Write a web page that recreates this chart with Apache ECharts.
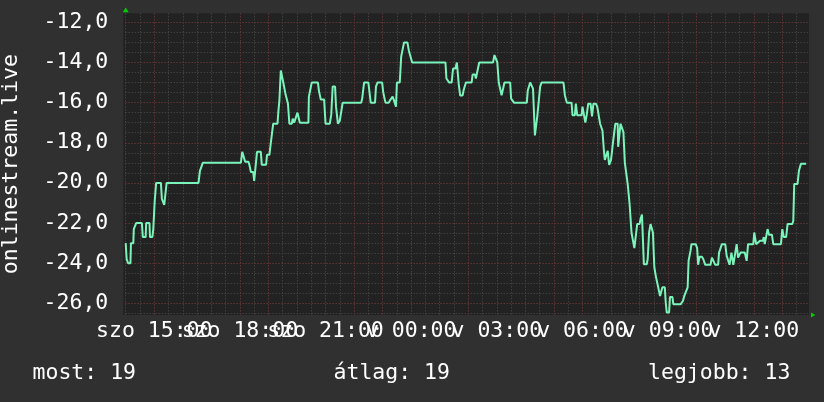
<!DOCTYPE html>
<html><head><meta charset="utf-8">
<script src="https://cdn.jsdelivr.net/npm/echarts@6/dist/echarts.min.js"></script>
<style>html,body{margin:0;padding:0;background:#303030;}#c{width:824px;height:402px;}</style>
</head><body><div id="c"></div><script>
// minutes since Saturday (szo) 00:00
const minutes = [840,842,845,850,851,856,857,862,874,876,882,883,890,891,896,898,901,904,914,916,920,921,924,926,993,996,999,1002,1082,1085,1089,1091,1098,1100,1103,1108,1110,1114,1116,1124,1126,1135,1137,1142,1145,1147,1150,1159,1161,1163,1166,1168,1171,1175,1176,1178,1181,1184,1189,1191,1194,1198,1201,1204,1206,1224,1225,1231,1244,1246,1248,1250,1257,1260,1269,1272,1275,1280,1282,1286,1288,1290,1294,1296,1335,1337,1341,1350,1351,1355,1364,1366,1369,1379,1381,1384,1386,1393,1395,1399,1401,1404,1408,1410,1416,1419,1422,1425,1432,1435,1439,1442,1512,1514,1518,1520,1525,1528,1533,1536,1538,1540,1543,1548,1550,1553,1555,1567,1569,1574,1576,1579,1581,1583,1612,1615,1618,1621,1624,1628,1630,1633,1636,1648,1650,1653,1656,1683,1685,1688,1690,1694,1696,1700,1702,1705,1708,1711,1714,1760,1763,1765,1767,1777,1779,1784,1786,1789,1798,1800,1803,1806,1807,1809,1812,1817,1820,1821,1823,1828,1831,1833,1837,1840,1842,1845,1847,1851,1853,1856,1858,1860,1862,1864,1867,1869,1874,1875,1877,1880,1883,1886,1889,1893,1895,1896,1899,1901,1903,1907,1909,1913,1915,1920,1922,1925,1928,1929,1935,1937,1940,1943,1946,1948,1951,1954,1957,1960,1963,1965,1968,1973,1975,1977,1982,1984,1989,1991,2006,2011,2014,2018,2021,2023,2026,2027,2029,2038,2041,2043,2046,2051,2054,2058,2069,2072,2076,2079,2085,2087,2090,2093,2100,2103,2106,2109,2111,2113,2117,2124,2127,2130,2132,2141,2145,2148,2159,2161,2162,2165,2169,2173,2179,2181,2183,2187,2189,2192,2198,2201,2217,2220,2223,2228,2231,2241,2243,2245,2252,2255,2259,2270];
const values = [-23.0,-23.8,-24.0,-24.0,-23.0,-23.0,-22.3,-22.0,-22.0,-22.7,-22.7,-22.0,-22.0,-22.7,-22.7,-22.3,-20.9,-20.0,-20.0,-20.8,-20.8,-21.1,-21.1,-20.0,-20.0,-19.4,-19.4,-19.0,-19.0,-18.45,-18.45,-18.95,-18.95,-19.1,-19.45,-19.45,-19.9,-19.9,-18.45,-18.45,-19.1,-19.1,-18.6,-18.6,-18.0,-18.0,-17.05,-17.05,-16.4,-15.9,-14.4,-14.4,-14.97,-14.97,-15.6,-15.6,-16.05,-17.05,-17.05,-16.8,-17.0,-17.0,-16.5,-16.5,-17.0,-17.0,-15.7,-15.0,-15.0,-15.4,-15.4,-15.85,-15.85,-17.05,-17.05,-16.6,-15.2,-15.2,-16.2,-17.05,-17.05,-16.9,-16.9,-16.0,-16.0,-15.8,-15.0,-15.0,-15.2,-16.0,-16.0,-15.2,-15.0,-15.0,-15.45,-15.8,-16.0,-16.0,-15.9,-15.9,-15.7,-15.9,-16.2,-15.0,-15.0,-13.7,-13.7,-13.0,-13.0,-13.4,-13.4,-14.0,-14.0,-14.8,-14.8,-15.0,-15.0,-14.3,-14.3,-14.0,-14.0,-15.1,-15.65,-15.65,-15.4,-15.4,-15.0,-15.0,-14.6,-14.6,-14.8,-14.45,-14.45,-14.0,-14.0,-13.63,-13.63,-14.0,-15.0,-15.0,-15.63,-15.63,-15.0,-15.0,-15.8,-15.8,-16.0,-16.0,-15.4,-15.4,-15.0,-15.0,-15.3,-17.63,-17.63,-16.68,-16.68,-15.2,-15.0,-15.0,-15.63,-15.63,-16.0,-16.0,-16.63,-16.63,-16.05,-16.63,-16.63,-16.2,-16.2,-17.0,-17.0,-16.6,-16.05,-16.05,-16.68,-16.68,-16.05,-16.05,-16.2,-16.2,-17.05,-17.05,-17.4,-18.4,-18.85,-18.85,-18.4,-19.1,-19.1,-18.85,-18.85,-18.0,-18.0,-17.05,-17.05,-18.2,-18.2,-17.05,-17.05,-17.47,-19.0,-19.0,-20.05,-20.05,-21.05,-21.05,-22.47,-22.47,-23.25,-23.25,-22.05,-22.05,-21.8,-21.58,-21.58,-24.05,-24.05,-23.8,-22.47,-22.05,-22.05,-22.47,-24.2,-24.63,-24.63,-25.3,-25.63,-25.63,-25.2,-25.2,-25.97,-26.45,-26.45,-25.68,-25.68,-26.05,-26.05,-25.88,-25.63,-25.63,-25.2,-23.88,-23.88,-23.38,-23.05,-23.05,-23.25,-24.08,-23.68,-23.68,-23.8,-24.08,-24.08,-23.72,-23.72,-24.08,-24.08,-23.47,-23.47,-23.05,-23.05,-23.63,-23.63,-24.08,-24.08,-23.47,-24.08,-23.05,-23.72,-23.72,-23.47,-23.47,-23.88,-23.05,-23.05,-22.47,-22.47,-23.05,-23.05,-22.88,-22.88,-22.7,-23.05,-23.05,-22.3,-22.58,-22.58,-23.05,-23.05,-22.3,-22.7,-22.7,-22.05,-22.05,-21.9,-20.05,-20.05,-19.38,-19.05,-19.05];
const xLabelHours = [15,18,21,24,27,30,33,36];
const xLabels = ['szo 15:00','szo 18:00','szo 21:00','v 00:00','v 03:00','v 06:00','v 09:00','v 12:00'];
const yTitle = 'onlinestream.live';
const stats = ['most: 19','átlag: 19','legjobb: 13'];

const FONT = 'DejaVu Sans Mono';
const FS = 21.5;
const GL = 125.7, GT = 13.3, GR = 809, GB = 315;
const X_MIN = 14, X_MAX = 37.934, Y_MIN = -26.58, Y_MAX = -11.55;

const data = minutes.map((m, i) => [m / 60, values[i]]);
const chart = echarts.init(document.getElementById('c'), null, {renderer: 'canvas'});
const txt = {fontFamily: FONT, fontSize: FS, color: '#ffffff', fontWeight: 'normal'};
const minorStyle = {color: '#4e4e4e', width: 1, type: [1, 2]};
const majorStyle = {color: '#6e2c2c', width: 1, type: [1, 2]};

chart.setOption({
  backgroundColor: '#303030',
  animation: false,
  title: [
    {text: stats[0], left: 32.5, top: 362.5, padding: 0, textStyle: txt},
    {text: stats[1], left: 333.5, top: 362.5, padding: 0, textStyle: txt},
    {text: stats[2], left: 648, top: 362.5, padding: 0, textStyle: txt}
  ],
  grid: {left: GL, top: GT, width: GR - GL, height: GB - GT, show: true, backgroundColor: '#222222', borderWidth: 0, containLabel: false, outerBoundsMode: 'none'},
  xAxis: [
    {type: 'value', min: X_MIN, max: X_MAX, interval: 0.5, position: 'top',
     axisLine: {show: false}, axisTick: {show: false}, axisLabel: {show: false},
     splitLine: {show: true, showMaxLine: false, lineStyle: minorStyle}},
    {type: 'value', min: X_MIN, max: X_MAX, interval: 1, position: 'bottom',
     axisLine: {show: false}, axisTick: {show: false},
     axisLabel: {show: true, margin: 5, showMinLabel: false, showMaxLabel: false, ...txt,
       formatter: v => { const i = xLabelHours.indexOf(Math.round(v * 1000) / 1000); return i >= 0 ? xLabels[i] : ''; }},
     splitLine: {show: true, showMaxLine: false, lineStyle: majorStyle}}
  ],
  yAxis: [
    {type: 'value', min: Y_MIN, max: Y_MAX, splitNumber: 30, minInterval: 0.5, maxInterval: 0.5, position: 'right',
     axisLine: {show: false}, axisTick: {show: false}, axisLabel: {show: false},
     splitLine: {show: true, showMinLine: false, showMaxLine: false, lineStyle: minorStyle}},
    {type: 'value', min: Y_MIN, max: Y_MAX, splitNumber: 7, minInterval: 2, maxInterval: 2, position: 'left',
     name: yTitle, nameLocation: 'middle', nameRotate: 90, nameGap: 103, nameTextStyle: txt, nameMoveOverlap: false,
     axisLine: {show: false}, axisTick: {show: false},
     axisLabel: {show: true, margin: 17.4, showMinLabel: false, showMaxLabel: false, ...txt,
       formatter: v => (Math.abs(v - Math.round(v)) < 1e-6 ? v.toFixed(1).replace('.', ',') : '')},
     splitLine: {show: true, showMinLine: false, showMaxLine: false, lineStyle: majorStyle}}
  ],
  graphic: [
    {type: 'rect', z: -10, shape: {x: 123.3, y: GT, width: GL - 123.3, height: GB - GT}, style: {fill: '#222222'}},
    {type: 'polygon', z: 100, shape: {points: [[GL - 2.9, GT - 1], [GL + 2.9, GT - 1], [GL, GT - 5.8]]}, style: {fill: '#00d000'}},
    {type: 'polygon', z: 100, shape: {points: [[GR + 2, GB - 2.6], [GR + 2, GB + 2.6], [GR + 6.4, GB]]}, style: {fill: '#00d000'}}
  ],
  series: [{
    type: 'line', xAxisIndex: 1, yAxisIndex: 1, data: data, showSymbol: false, symbol: 'none',
    lineStyle: {color: '#7af4ba', width: 2}, z: 5
  }]
});
</script></body></html>
